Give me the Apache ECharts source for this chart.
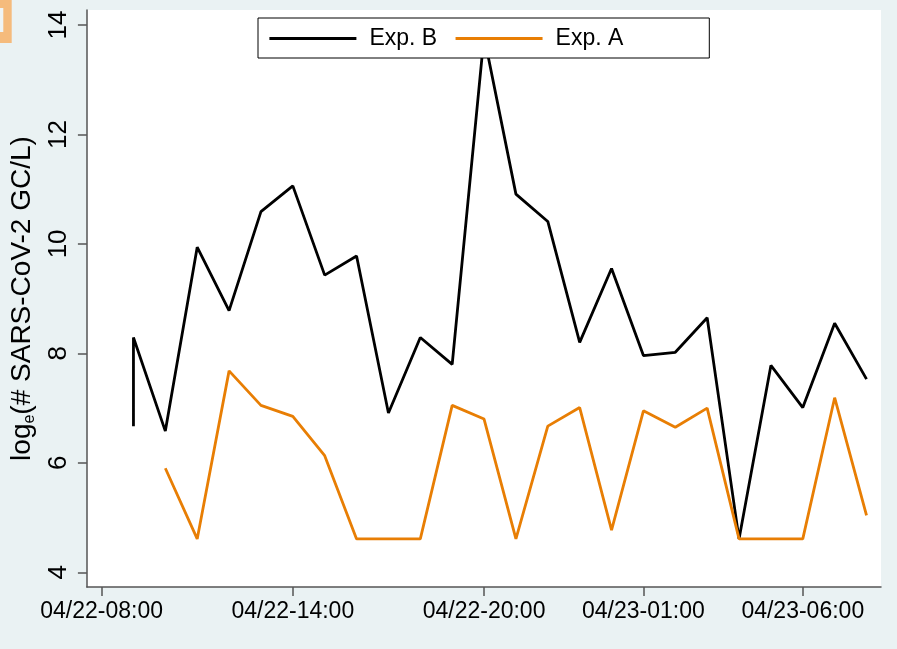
<!DOCTYPE html>
<html>
<head>
<meta charset="utf-8">
<script src="https://cdn.jsdelivr.net/npm/echarts@6/dist/echarts.min.js"></script>
<style>
html,body{margin:0;padding:0;background:#EAF2F3;}
#chart{width:897px;height:649px;}
</style>
</head>
<body>
<div id="chart"></div>
<script>
// ---- data ----
const timesB = ['04/22 09:00','04/22 09:00','04/22 10:00','04/22 11:00','04/22 12:00','04/22 13:00','04/22 14:00','04/22 15:00','04/22 16:00','04/22 17:00','04/22 18:00','04/22 19:00','04/22 20:00','04/22 21:00','04/22 22:00','04/22 23:00','04/23 00:00','04/23 01:00','04/23 02:00','04/23 03:00','04/23 04:00','04/23 05:00','04/23 06:00','04/23 07:00','04/23 08:00'];
const valuesB = [6.67,8.29,6.58,9.94,8.78,10.59,11.06,9.43,9.78,6.91,8.29,7.80,13.8,10.91,10.41,8.20,9.55,7.96,8.02,8.65,4.61,7.78,7.01,8.55,7.53];
const timesA = ['04/22 10:00','04/22 11:00','04/22 12:00','04/22 13:00','04/22 14:00','04/22 15:00','04/22 16:00','04/22 17:00','04/22 18:00','04/22 19:00','04/22 20:00','04/22 21:00','04/22 22:00','04/22 23:00','04/23 00:00','04/23 01:00','04/23 02:00','04/23 03:00','04/23 04:00','04/23 05:00','04/23 06:00','04/23 07:00','04/23 08:00'];
const valuesA = [5.90,4.61,7.68,7.05,6.85,6.13,4.61,4.61,4.61,7.05,6.80,4.61,6.67,7.01,4.77,6.95,6.65,7.00,4.61,4.61,4.61,7.19,5.04];
const xTickTimes = ['04/22 08:00','04/22 14:00','04/22 20:00','04/23 01:00','04/23 06:00'];
const yTicks = [4,6,8,10,12,14];
const seriesNames = ['Exp. B','Exp. A'];

// ---- build: time strings -> hours since 04/22 00:00 ----
const toH = s => { const [md, hm] = s.split(' '); const day = +md.split('/')[1]; const [h, m] = hm.split(':').map(Number); return (day - 22) * 24 + h + m / 60; };
const pad = n => (n < 10 ? '0' : '') + n;
const fmt = v => { const r = Math.round(v * 60); const day = 22 + Math.floor(r / 1440); const mm = r % 1440; return '04/' + pad(day) + '-' + pad(Math.floor(mm / 60)) + ':' + pad(mm % 60); };
const dataB = timesB.map((t,i) => [toH(t), valuesB[i]]);
const dataA = timesA.map((t,i) => [toH(t), valuesA[i]]);
const xTickVals = xTickTimes.map(toH);

const chart = echarts.init(document.getElementById('chart'), null, {renderer:'canvas'});
const FONT = '"Liberation Sans", Arial, sans-serif';
chart.setOption({
  backgroundColor: '#EAF2F3',
  animation: false,
  textStyle: {fontFamily: FONT},
  graphic: [
    {type:'rect', shape:{x:0,y:0,width:11.7,height:43}, style:{fill:'#F5BB7C'}, silent:true},
    {type:'rect', shape:{x:0,y:8,width:3.3,height:24}, style:{fill:'#EEF4F5'}, silent:true}
  ],
  grid: {left:86, top:10, right:16, bottom:62, show:true, backgroundColor:'#ffffff', borderWidth:0, containLabel:false},
  legend: {
    data: seriesNames,
    left: 258, top: 18,
    orient: 'horizontal',
    backgroundColor: '#ffffff',
    borderColor: '#000000', borderWidth: 1,
    padding: [9, 86, 8, 10],
    itemGap: 17, itemWidth: 87, itemHeight: 26,
    itemStyle: {opacity: 0},
    lineStyle: {width: 2.8},
    textStyle: {fontSize: 23, color: '#000', fontFamily: FONT, padding: [0,0,0,8]}
  },
  xAxis: {
    type: 'value',
    min: toH('04/22 08:00') - 0.4607,
    max: toH('04/23 06:00') + 2.454,
    splitLine: {show:false},
    axisLine: {show:true, lineStyle:{color:'#555', width:1.5}},
    axisTick: {show:true, length:9, lineStyle:{color:'#555', width:1.5}, customValues: xTickVals},
    axisLabel: {show:true, fontSize:23, color:'#000', margin:13, fontFamily: FONT, customValues: xTickVals, formatter: v => fmt(v), hideOverlap:false}
  },
  yAxis: {
    type: 'value',
    min: 3.731, max: 14.274,
    splitLine: {show:false},
    axisLine: {show:true, lineStyle:{color:'#555', width:1.5}},
    axisTick: {show:true, length:9, lineStyle:{color:'#555', width:1.5}, customValues: yTicks},
    axisLabel: {show:true, fontSize:26, color:'#000', rotate:90, margin:15, fontFamily: FONT, customValues: yTicks},
    name: '{a|log}{b|e}{a|(# SARS-CoV-2 GC/L)}',
    nameLocation: 'middle',
    nameRotate: 90,
    nameGap: 42,
    nameTextStyle: {
      fontFamily: FONT,
      rich: {
        a: {fontSize: 28, color:'#000', fontFamily: FONT},
        b: {fontSize: 16, color:'#000', fontFamily: FONT, verticalAlign:'bottom', padding:[0,0,-2,0]}
      }
    }
  },
  series: [
    {name: seriesNames[0], type:'line', data: dataB, symbol:'none', showSymbol:false, lineStyle:{color:'#000000', width:2.8}, itemStyle:{color:'#000000'}, z:2},
    {name: seriesNames[1], type:'line', data: dataA, symbol:'none', showSymbol:false, lineStyle:{color:'#E87E04', width:2.8}, itemStyle:{color:'#E87E04'}, z:3}
  ]
});
</script>
</body>
</html>
